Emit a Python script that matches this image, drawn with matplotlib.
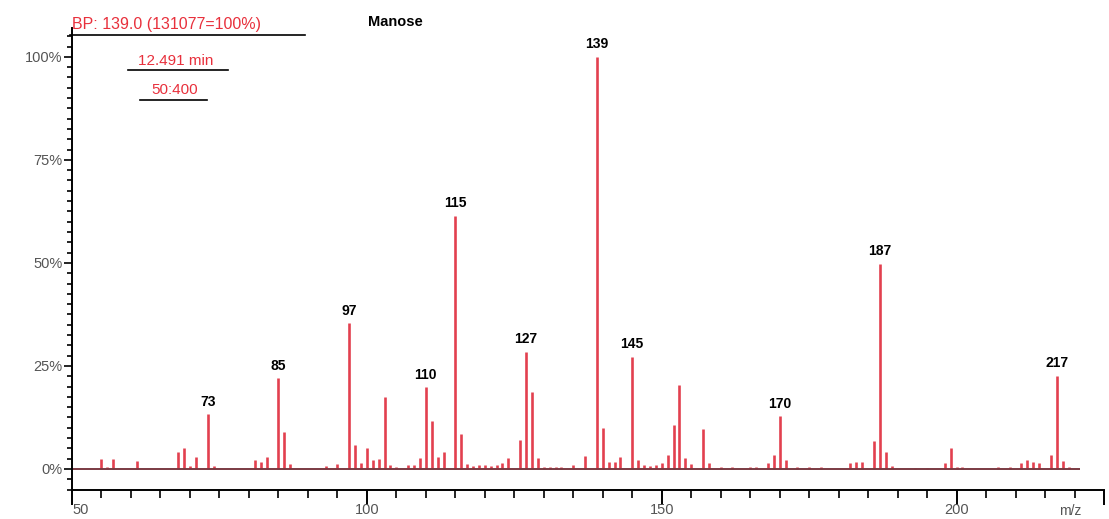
import numpy as np
import matplotlib.pyplot as plt
from matplotlib.lines import Line2D
from matplotlib.ticker import MultipleLocator

plt.rcParams['font.family'] = ['Liberation Sans', 'DejaVu Sans']

# Mass spectrum of Manose, scan at 12.491 min (relative intensity, % of base peak)
mz = [55, 56, 57, 61, 68, 69, 70, 71, 73, 74, 81, 82, 83, 85, 86, 87, 93, 95,
      97, 98, 99, 100, 101, 102, 103, 104, 105, 107, 108, 109, 110, 111, 112, 113,
      115, 116, 117, 118, 119, 120, 121, 122, 123, 124, 126, 127, 128, 129, 130,
      131, 132, 133, 135, 137, 139, 140, 141, 142, 143, 145, 146, 147, 148, 149,
      150, 151, 152, 153, 154, 155, 157, 158, 160, 162, 165, 166, 168, 169, 170,
      171, 173, 175, 177, 182, 183, 184, 186, 187, 188, 189, 193, 195, 198, 199,
      200, 201, 207, 209, 211, 212, 213, 214, 216, 217, 218, 219]
intensity = [2.4, 0.5, 2.5, 2.0, 4.0, 5.0, 0.7, 2.8, 13.3, 0.7, 2.2, 1.8, 2.9, 22.0, 9.0, 1.3, 0.8, 1.3,
             35.4, 5.8, 1.5, 5.1, 2.2, 2.4, 17.5, 1.0, 0.5, 1.0, 1.0, 2.7, 19.8, 11.7, 3.0, 4.0,
             61.4, 8.5, 1.2, 0.8, 1.0, 1.0, 0.8, 1.0, 1.5, 2.7, 7.0, 28.4, 18.7, 2.7, 0.5,
             0.6, 0.5, 0.5, 1.0, 3.2, 100.0, 10.0, 1.8, 1.7, 3.0, 27.2, 2.2, 1.0, 0.8, 1.0,
             1.5, 3.4, 10.7, 20.4, 2.7, 1.2, 9.6, 1.4, 0.4, 0.4, 0.5, 0.5, 1.4, 3.5, 12.8,
             2.2, 0.4, 0.4, 0.4, 1.5, 1.7, 1.8, 6.9, 49.8, 4.2, 0.8, 0.3, 0.3, 1.5, 5.1,
             0.5, 0.4, 0.5, 0.5, 1.5, 2.2, 1.7, 1.4, 3.5, 22.6, 2.0, 0.5]
labelled = [73, 85, 97, 110, 115, 127, 139, 145, 170, 187, 217]

y_ticks = [0, 25, 50, 75, 100]
y_tick_labels = ['0%', '25%', '50%', '75%', '100%']
x_ticks = [50, 100, 150, 200, 225]
x_tick_labels = ['50', '100', '150', '200', '']
baseline_range = [50, 221]

W, H = 1109, 519
fig = plt.figure(figsize=(W / 100, H / 100), dpi=100)
ax = fig.add_axes([72 / W, 1 - 490 / H, (1104 - 72) / W, (490 - 28) / H])

# spectrum lines and baseline
ax.vlines(mz, 0, intensity, colors='#e2404f', lw=1.9)
ax.hlines(0, baseline_range[0], baseline_range[1], colors='#7a3a42', lw=1.4)

# peak labels
for m in labelled:
    h = intensity[mz.index(m)]
    ax.annotate(str(m), (m, h), xytext=(0, 4), textcoords='offset points',
                ha='center', va='bottom', fontsize=10, fontweight='bold')

ax.set_xlim(50, 225)
ax.set_ylim(-5.1, 107)

ax.spines['top'].set_visible(False)
ax.spines['right'].set_visible(False)
for s in ['left', 'bottom']:
    ax.spines[s].set_linewidth(1.4)

ax.set_xticks(x_ticks, x_tick_labels)
ax.xaxis.set_minor_locator(MultipleLocator(5))
ax.set_yticks(y_ticks, y_tick_labels)
ax.yaxis.set_minor_locator(MultipleLocator(2.5))
ax.tick_params(axis='x', which='major', length=11, width=1.4, pad=-2, labelsize=10.5, labelcolor='#555555')
ax.tick_params(axis='x', which='minor', length=6, width=1.2)
ax.tick_params(axis='y', which='major', length=6, width=1.2, pad=1, labelsize=10.5, labelcolor='#555555')
ax.tick_params(axis='y', which='minor', length=3.5, width=1.2)
ax.get_xticklabels()[0].set_ha('left')

# header texts
def px(x, y):
    return x / W, 1 - y / H

red = '#e8303c'
fig.text(*px(72, 25), 'BP: 139.0 (131077=100%)', color=red, fontsize=11.5, va='center', ha='left')
fig.text(*px(176, 61), '12.491 min', color=red, fontsize=11, va='center', ha='center')
fig.text(*px(175, 90), '50:400', color=red, fontsize=11, va='center', ha='center')
fig.text(*px(395, 22), 'Manose', fontsize=10.5, fontweight='bold', va='center', ha='center')
fig.text(*px(1070, 518), 'm/z', color='#555555', fontsize=10, va='bottom', ha='center')

for x0, x1, y in [(70, 305, 35), (128, 228, 70), (140, 207, 100)]:
    fig.add_artist(Line2D([x0 / W, x1 / W], [1 - y / H, 1 - y / H], color='k', lw=1.2))

fig.savefig('out.png', dpi=100)
